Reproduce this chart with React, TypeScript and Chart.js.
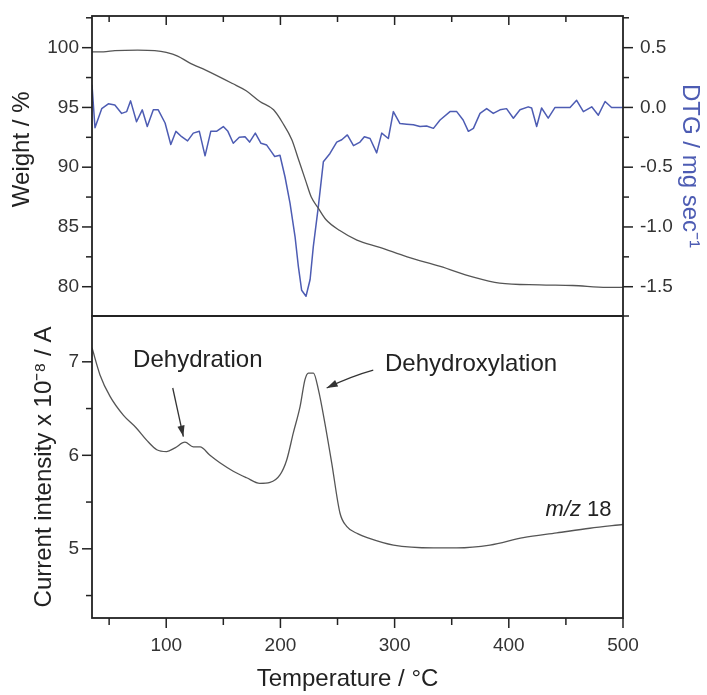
import React, { useEffect, useRef } from "react";
import { Chart, registerables } from "chart.js";

Chart.register(...registerables);

const FONT = "'Liberation Sans', Arial, Helvetica, sans-serif";
const INK = "#222222";
const TICK_TEXT = "#333333";
const BLUE = "#4d5cb3";
const GRAY_LINE = "#555555";

// ---- shared temperature axis ----
const TEMP_MIN = 35;
const TEMP_MAX = 500;
const tempTickValues = [50, 100, 150, 200, 250, 300, 350, 400, 450, 500];
const tempTickLabels = [100, 200, 300, 400, 500];

// ---- top panel: weight (left) ----
const WEIGHT_MIN = 77.55;
const WEIGHT_MAX = 102.65;
const weightTickLabels = [80, 85, 90, 95, 100];
const weightTemp = [35, 45, 55, 75, 90, 100, 110, 120, 135, 158, 170, 182, 194, 202, 210, 216, 222, 227, 233, 240, 252, 267, 287, 311, 340, 369, 392, 427, 456, 486, 500];
const weightPct = [99.65, 99.65, 99.75, 99.8, 99.75, 99.6, 99.3, 98.75, 98.1, 97.0, 96.4, 95.5, 94.8, 93.7, 92.3, 90.6, 88.9, 87.5, 86.6, 85.6, 84.7, 83.9, 83.3, 82.5, 81.7, 80.8, 80.3, 80.15, 80.1, 79.95, 79.95];

// ---- top panel: DTG (right) ----
const DTG_MIN = -1.745;
const DTG_MAX = 0.765;
const dtgTickLabels = [-1.5, -1.0, -0.5, 0.0, 0.5];
const dtgTemp = [35, 37.6, 43.5, 49.3, 55, 61, 65.4, 68.8, 74, 79, 83.4, 88.7, 93, 99, 104, 108.5, 113.5, 118.7, 123.7, 129, 134, 139, 144, 150, 154, 158.7, 164, 169, 173, 178, 183, 188, 192, 195, 199.6, 204, 208.4, 212.8, 215.7, 218.6, 222.4, 226, 228.8, 233.2, 237.6, 243.4, 249.3, 253.7, 258.6, 264, 269.7, 273.5, 278.5, 284.3, 288.7, 294.5, 298.9, 304.7, 310.6, 316.4, 322.2, 328, 334, 339.8, 348.5, 354.4, 360, 364.6, 369, 374.8, 380.6, 386.4, 392.3, 398, 404, 409.8, 417, 420, 424.4, 428.7, 434.5, 440.5, 447.7, 453.6, 459.4, 465.3, 472.6, 478.4, 484.3, 490, 500];
const dtgValues = [0.19, -0.17, -0.01, 0.03, 0.02, -0.05, -0.035, 0.055, -0.12, -0.02, -0.16, -0.02, -0.02, -0.13, -0.31, -0.2, -0.245, -0.28, -0.215, -0.2, -0.405, -0.2, -0.2, -0.16, -0.2, -0.3, -0.25, -0.245, -0.29, -0.215, -0.3, -0.315, -0.37, -0.41, -0.4, -0.58, -0.8, -1.08, -1.33, -1.53, -1.58, -1.44, -1.165, -0.83, -0.455, -0.385, -0.29, -0.27, -0.23, -0.32, -0.29, -0.245, -0.26, -0.38, -0.215, -0.26, -0.035, -0.135, -0.14, -0.145, -0.16, -0.155, -0.175, -0.105, -0.035, -0.035, -0.105, -0.2, -0.175, -0.05, -0.01, -0.05, -0.02, -0.01, -0.09, -0.02, 0.005, -0.005, -0.16, -0.005, -0.09, 0.0, 0.0, 0.0, 0.06, -0.035, 0.005, -0.065, 0.05, 0.0, 0.0];

// ---- bottom panel: MS current m/z 18 ----
const MS_MIN = 4.26;
const MS_MAX = 7.49;
const msTickLabels = [5, 6, 7];
const msTemp = [35, 42, 50.8, 62.4, 74, 83, 91.7, 100.4, 107.7, 116.4, 123.7, 129.6, 138.3, 147, 158.7, 170.4, 182, 190.9, 199.6, 205.5, 211.3, 217.2, 221.5, 224.5, 228.9, 233.3, 239, 244.9, 252.2, 258, 268, 276, 299, 334, 354.4, 383.5, 412.7, 442, 471, 500];
const msCurrent = [7.15, 6.86, 6.63, 6.43, 6.29, 6.16, 6.06, 6.04, 6.08, 6.14, 6.09, 6.09, 6.0, 5.92, 5.83, 5.76, 5.7, 5.71, 5.79, 5.95, 6.24, 6.52, 6.81, 6.88, 6.88, 6.7, 6.34, 5.92, 5.38, 5.24, 5.16, 5.12, 5.04, 5.01, 5.01, 5.04, 5.12, 5.17, 5.22, 5.26];

// ---- annotations (data coordinates of the lower panel) ----
const annotationTexts = ["Dehydration", "Dehydroxylation"];
const annotationTemp = [71, 291.6];
const annotationCurrent = [7.02, 6.97];
const arrowStartTemp = [105.7, 281.3];
const arrowStartCurrent = [6.72, 6.91];
const arrowEndTemp = [115, 240.5];
const arrowEndCurrent = [6.2, 6.72];
const massLabelTemp = 490;
const massLabelCurrent = 5.415;

// page geometry of the top panel canvas (shifted up so Chart.js label padding fits)
const TOP_CANVAS_OFFSET = -24;
const TOP_CANVAS_HEIGHT = 380;
const TOP_AREA_TOP = 16;
const TOP_AREA_BOTTOM = 316;

const isLabeled = (list: number[], v: number) => list.some((l) => Math.abs(l - v) < 1e-6);
const findLabel = (list: number[], v: number) => list.find((l) => Math.abs(l - v) < 1e-6);

function seg(ctx: CanvasRenderingContext2D, x1: number, y1: number, x2: number, y2: number) {
  ctx.beginPath();
  ctx.moveTo(x1, y1);
  ctx.lineTo(x2, y2);
  ctx.stroke();
}

function arrowHead(ctx: CanvasRenderingContext2D, fromX: number, fromY: number, toX: number, toY: number) {
  const ang = Math.atan2(toY - fromY, toX - fromX);
  const len = 11;
  const half = 3.6;
  ctx.beginPath();
  ctx.moveTo(toX, toY);
  ctx.lineTo(toX - len * Math.cos(ang) + half * Math.sin(ang), toY - len * Math.sin(ang) - half * Math.cos(ang));
  ctx.lineTo(toX - len * Math.cos(ang) - half * Math.sin(ang), toY - len * Math.sin(ang) + half * Math.cos(ang));
  ctx.closePath();
  ctx.fill();
}

const topFramePlugin = {
  id: "topFrame",
  afterDraw(chart: any) {
    const { ctx, chartArea: a, scales } = chart;
    ctx.save();
    ctx.strokeStyle = INK;
    ctx.lineWidth = 1.8;
    ctx.strokeRect(a.left, a.top, a.right - a.left, a.bottom - a.top);
    ctx.lineWidth = 1.5;
    const yW = scales.yW;
    yW.ticks.forEach((t: any) => {
      const y = yW.getPixelForValue(t.value);
      const len = isLabeled(weightTickLabels, t.value) ? 10 : 6;
      seg(ctx, a.left - len, y, a.left, y);
    });
    const yD = scales.yD;
    yD.ticks.forEach((t: any) => {
      const y = yD.getPixelForValue(t.value);
      const len = isLabeled(dtgTickLabels, t.value) ? 10 : 6;
      seg(ctx, a.right, y, a.right + len, y);
    });
    seg(ctx, a.right, a.bottom, a.right + 6, a.bottom);
    const x = scales.x;
    tempTickValues.forEach((v) => {
      if (v >= TEMP_MAX) return;
      const px = x.getPixelForValue(v);
      const len = isLabeled(tempTickLabels, v) ? 9 : 6;
      seg(ctx, px, a.top, px, a.top + len);
    });
    ctx.restore();
  },
};

const bottomFramePlugin = {
  id: "bottomFrame",
  afterDraw(chart: any) {
    const { ctx, chartArea: a, scales } = chart;
    const x = scales.x;
    const y = scales.y;
    ctx.save();
    ctx.strokeStyle = INK;
    ctx.lineWidth = 1.8;
    ctx.strokeRect(a.left, a.top, a.right - a.left, a.bottom - a.top);
    ctx.lineWidth = 1.5;
    y.ticks.forEach((t: any) => {
      const py = y.getPixelForValue(t.value);
      if (py < a.top + 1) return;
      const len = isLabeled(msTickLabels, t.value) ? 10 : 6;
      seg(ctx, a.left - len, py, a.left, py);
    });
    tempTickValues.forEach((v) => {
      const px = x.getPixelForValue(v);
      const len = isLabeled(tempTickLabels, v) ? 10 : 7;
      seg(ctx, px, a.bottom, px, a.bottom + len);
    });

    // annotations
    ctx.fillStyle = INK;
    ctx.textBaseline = "middle";
    ctx.textAlign = "left";
    ctx.font = `24px ${FONT}`;
    annotationTexts.forEach((txt, i) => {
      ctx.fillText(txt, x.getPixelForValue(annotationTemp[i]), y.getPixelForValue(annotationCurrent[i]));
    });
    ctx.strokeStyle = "#333333";
    ctx.fillStyle = "#333333";
    ctx.lineWidth = 1.3;
    annotationTexts.forEach((_, i) => {
      const x1 = x.getPixelForValue(arrowStartTemp[i]);
      const y1 = y.getPixelForValue(arrowStartCurrent[i]);
      const x2 = x.getPixelForValue(arrowEndTemp[i]);
      const y2 = y.getPixelForValue(arrowEndCurrent[i]);
      const cx = (x1 + x2) / 2 + (i === 1 ? 2 : 0);
      const cy = (y1 + y2) / 2 - (i === 1 ? 3 : 0);
      ctx.beginPath();
      ctx.moveTo(x1, y1);
      ctx.quadraticCurveTo(cx, cy, x2, y2);
      ctx.stroke();
      arrowHead(ctx, cx, cy, x2, y2);
    });

    // m/z 18 label
    ctx.fillStyle = INK;
    const rx = x.getPixelForValue(massLabelTemp);
    const ry = y.getPixelForValue(massLabelCurrent);
    ctx.textAlign = "right";
    ctx.font = `22px ${FONT}`;
    const numTxt = " 18";
    ctx.fillText(numTxt, rx, ry);
    const w = ctx.measureText(numTxt).width;
    ctx.font = `italic 22px ${FONT}`;
    ctx.fillText("m/z", rx - w, ry);
    ctx.restore();
  },
};

export default function App() {
  const topRef = useRef<HTMLCanvasElement>(null);
  const bottomRef = useRef<HTMLCanvasElement>(null);

  useEffect(() => {
    Chart.defaults.font.family = FONT;
    const tickFont = { size: 19, family: FONT };
    const titleFont = { size: 24, family: FONT };

    const padTop = TOP_AREA_TOP - TOP_CANVAS_OFFSET;
    const padBottom = TOP_CANVAS_HEIGHT - (TOP_AREA_BOTTOM - TOP_CANVAS_OFFSET);

    const top = new Chart(topRef.current as HTMLCanvasElement, {
      type: "line",
      data: {
        datasets: [
          {
            label: "Weight",
            data: weightTemp.map((t, i) => ({ x: t, y: weightPct[i] })),
            yAxisID: "yW",
            borderColor: GRAY_LINE,
            borderWidth: 1.3,
            pointRadius: 0,
            cubicInterpolationMode: "monotone",
            fill: false,
          },
          {
            label: "DTG",
            data: dtgTemp.map((t, i) => ({ x: t, y: dtgValues[i] })),
            yAxisID: "yD",
            borderColor: BLUE,
            borderWidth: 1.5,
            pointRadius: 0,
            tension: 0,
            borderJoinStyle: "round",
            fill: false,
          },
        ],
      },
      options: {
        responsive: false,
        animation: false,
        devicePixelRatio: 1,
        events: [],
        layout: { padding: { top: padTop, bottom: padBottom, left: 0, right: 0 } },
        plugins: { legend: { display: false }, tooltip: { enabled: false } },
        scales: {
          x: {
            type: "linear",
            min: TEMP_MIN,
            max: TEMP_MAX,
            display: false,
            ticks: { display: false },
            grid: { display: false },
          },
          yW: {
            type: "linear",
            position: "left",
            min: WEIGHT_MIN,
            max: WEIGHT_MAX,
            afterFit: (s: any) => {
              s.width = 92;
            },
            grid: { display: false, drawTicks: false },
            border: { display: false },
            ticks: {
              stepSize: 2.5,
              includeBounds: false,
              autoSkip: false,
              padding: 13,
              color: TICK_TEXT,
              font: tickFont,
              callback: (v: any) => {
                const m = findLabel(weightTickLabels, Number(v));
                return m === undefined ? "" : String(m);
              },
            },
            title: {
              display: true,
              text: "     Weight / %",
              color: INK,
              font: titleFont,
              padding: { top: 8, bottom: 0 },
            },
          },
          yD: {
            type: "linear",
            position: "right",
            min: DTG_MIN,
            max: DTG_MAX,
            afterFit: (s: any) => {
              s.width = 84;
            },
            grid: { display: false, drawTicks: false },
            border: { display: false },
            ticks: {
              stepSize: 0.25,
              includeBounds: false,
              autoSkip: false,
              padding: 17,
              color: TICK_TEXT,
              font: tickFont,
              callback: (v: any) => {
                const m = findLabel(dtgTickLabels, Number(v));
                return m === undefined ? "" : m.toFixed(1);
              },
            },
            title: {
              display: true,
              text: "DTG / mg sec\u207B\u00B9",
              color: BLUE,
              font: titleFont,
              padding: { top: 3, bottom: 0 },
            },
          },
        },
      },
      plugins: [topFramePlugin],
    } as any);

    const bottom = new Chart(bottomRef.current as HTMLCanvasElement, {
      type: "line",
      data: {
        datasets: [
          {
            label: "m/z 18",
            data: msTemp.map((t, i) => ({ x: t, y: msCurrent[i] })),
            borderColor: GRAY_LINE,
            borderWidth: 1.3,
            pointRadius: 0,
            cubicInterpolationMode: "monotone",
            fill: false,
          },
        ],
      },
      options: {
        responsive: false,
        animation: false,
        devicePixelRatio: 1,
        events: [],
        layout: { padding: { top: 316, bottom: 0, left: 0, right: 84 } },
        plugins: { legend: { display: false }, tooltip: { enabled: false } },
        scales: {
          x: {
            type: "linear",
            position: "bottom",
            min: TEMP_MIN,
            max: TEMP_MAX,
            afterFit: (s: any) => {
              s.height = 77;
            },
            grid: { display: false, drawTicks: false },
            border: { display: false },
            ticks: {
              stepSize: 50,
              includeBounds: false,
              autoSkip: false,
              maxRotation: 0,
              padding: 16,
              color: TICK_TEXT,
              font: tickFont,
              callback: (v: any) => {
                const m = findLabel(tempTickLabels, Number(v));
                return m === undefined ? "" : String(m);
              },
            },
            title: {
              display: true,
              text: "Temperature / \u00B0C   ",
              color: INK,
              font: titleFont,
              padding: { top: 0, bottom: 1 },
            },
          },
          y: {
            type: "linear",
            position: "left",
            min: MS_MIN,
            max: MS_MAX,
            afterFit: (s: any) => {
              s.width = 92;
            },
            grid: { display: false, drawTicks: false },
            border: { display: false },
            ticks: {
              stepSize: 0.5,
              includeBounds: false,
              autoSkip: false,
              padding: 13,
              color: TICK_TEXT,
              font: tickFont,
              callback: (v: any) => {
                const m = findLabel(msTickLabels, Number(v));
                return m === undefined ? "" : String(m);
              },
            },
            title: {
              display: true,
              text: "Current intensity x 10\u207B\u2078 / A",
              color: INK,
              font: titleFont,
              padding: { top: 30, bottom: 0 },
            },
          },
        },
      },
      plugins: [bottomFramePlugin],
    } as any);

    return () => {
      top.destroy();
      bottom.destroy();
    };
  }, []);

  return (
    <div style={{ position: "absolute", left: 0, top: 0, width: 707, height: 695, background: "#ffffff", overflow: "hidden" }}>
      <canvas
        ref={topRef}
        width={707}
        height={TOP_CANVAS_HEIGHT}
        style={{ position: "absolute", left: 0, top: TOP_CANVAS_OFFSET, width: 707, height: TOP_CANVAS_HEIGHT }}
      />
      <canvas
        ref={bottomRef}
        width={707}
        height={695}
        style={{ position: "absolute", left: 0, top: 0, width: 707, height: 695 }}
      />
    </div>
  );
}
